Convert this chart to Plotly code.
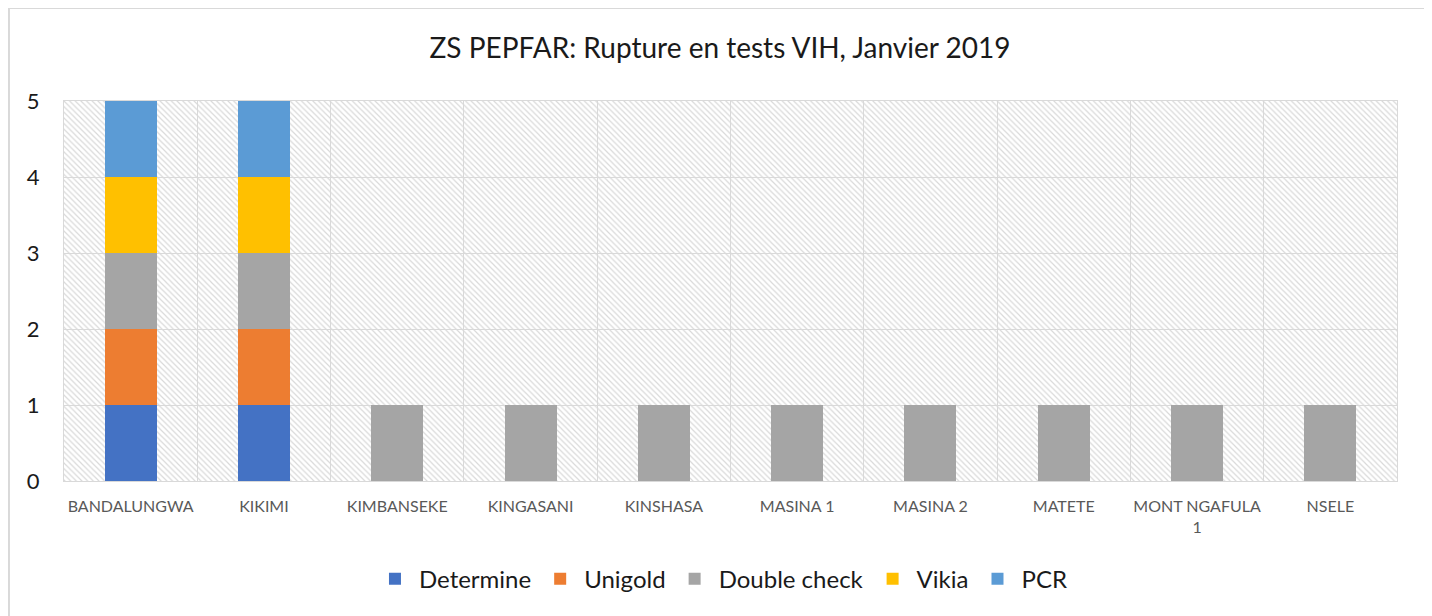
import plotly.graph_objects as go

zones = ["BANDALUNGWA", "KIKIMI", "KIMBANSEKE", "KINGASANI", "KINSHASA",
         "MASINA 1", "MASINA 2", "MATETE", "MONT NGAFULA 1", "NSELE"]
zone_labels = ["BANDALUNGWA", "KIKIMI", "KIMBANSEKE", "KINGASANI", "KINSHASA",
               "MASINA 1", "MASINA 2", "MATETE", "MONT NGAFULA<br>1", "NSELE"]

determine = [1, 1, 0, 0, 0, 0, 0, 0, 0, 0]
unigold = [1, 1, 0, 0, 0, 0, 0, 0, 0, 0]
double_check = [1, 1, 1, 1, 1, 1, 1, 1, 1, 1]
vikia = [1, 1, 0, 0, 0, 0, 0, 0, 0, 0]
pcr = [1, 1, 0, 0, 0, 0, 0, 0, 0, 0]

y_max = 5
y_ticks = [0, 1, 2, 3, 4, 5]

series = [
    ("Determine", determine, "#4472C4"),
    ("Unigold", unigold, "#ED7D31"),
    ("Double check", double_check, "#A5A5A5"),
    ("Vikia", vikia, "#FFC000"),
    ("PCR", pcr, "#5B9BD5"),
]

fig = go.Figure()

# hatched plot-area background, one cell per category
fig.add_trace(go.Bar(
    x=zones, y=[y_max] * len(zones), width=1, xaxis="x", yaxis="y",
    marker=dict(color="rgba(0,0,0,0)", line_width=0,
                pattern=dict(shape="\\", fgcolor="#d9d9d9", size=4, solidity=0.3,
                             fillmode="replace")),
    showlegend=False, hoverinfo="skip",
))

for name, vals, color in series:
    fig.add_trace(go.Bar(
        x=zones, y=vals, name=name, xaxis="x2", yaxis="y",
        marker=dict(color=color, line_width=0), width=0.39,
    ))

# page body adds 8px, so the figure is 8px smaller and margins shifted
font = "Lato"
fig.update_layout(
    width=1424, height=608,
    barmode="stack",
    margin=dict(l=56, r=35, t=93, b=135, autoexpand=False),
    paper_bgcolor="white",
    plot_bgcolor="white",
    font=dict(family=font, color="#404040"),
    title=dict(text="ZS PEPFAR: Rupture en tests VIH, Janvier 2019",
               x=0.5, xref="container", y=1 - 40 / 608, yanchor="middle",
               font=dict(size=28, color="#1a1a1a", family=font)),
    xaxis=dict(
        categoryorder="array", categoryarray=zones,
        tickmode="array", tickvals=zones, ticktext=zone_labels,
        range=[-0.5, len(zones) - 0.5],
        tickson="boundaries", ticks="", showgrid=True,
        gridcolor="#d9d9d9", gridwidth=1,
        showline=True, linecolor="#d9d9d9", mirror=True,
        tickfont=dict(size=16, color="#595959"), ticklabelstandoff=11,
        tickangle=0, automargin=False,
        fixedrange=True,
    ),
    xaxis2=dict(
        overlaying="x", categoryorder="array", categoryarray=zones,
        range=[-0.5, len(zones) - 0.5], visible=False,
    ),
    yaxis=dict(
        range=[0, y_max], tickvals=y_ticks, showgrid=True,
        gridcolor="#d9d9d9", gridwidth=1, zeroline=False,
        showline=True, linecolor="#d9d9d9", mirror=True,
        tickfont=dict(size=22, color="#1a1a1a"), ticklabelstandoff=19,
        automargin=False,
    ),
    legend=dict(
        orientation="h", x=0.4936, xanchor="center", y=-0.258, yanchor="middle",
        font=dict(size=24, color="#1a1a1a"), itemwidth=38,
        traceorder="normal",
    ),
    # outer chart frame (open at the bottom, cut off by the window)
    shapes=[dict(
        type="rect", xref="paper", yref="paper",
        x0=-0.0413, x1=1.021, y0=-0.45, y1=1.2447,
        line=dict(color="#d9d9d9", width=2), layer="below",
    )],
)

fig.write_html("out.html")
